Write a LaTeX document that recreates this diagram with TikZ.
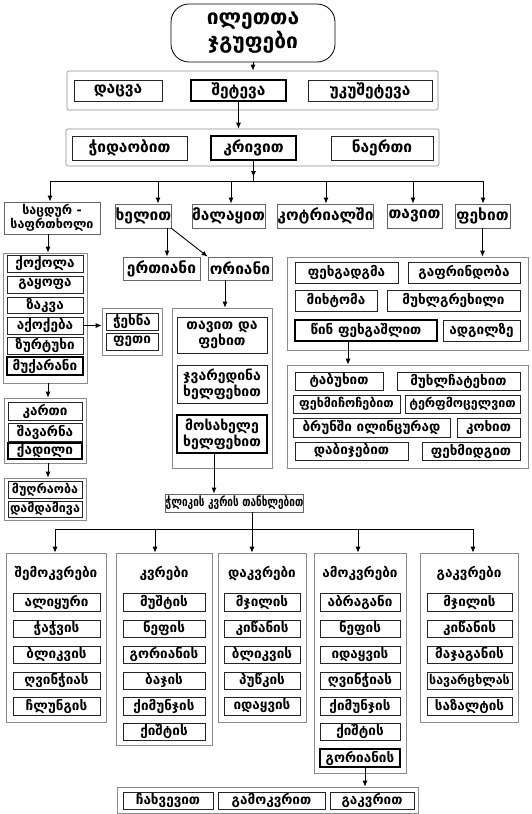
\documentclass[tikz,border=0pt]{standalone}
\usepackage{fontspec}
\setmainfont{DejaVu Sans}
\usetikzlibrary{arrows.meta}
\newcommand\BX[7]{%
 \pgfmathsetmacro\bxcx{(#3+#5)/2}%
 \pgfmathsetmacro\bxcy{(#4+#6)/2}%
 \pgfmathsetmacro\bxw{#5-#3}%
 \pgfmathsetmacro\bxh{#6-#4}%
 \node[#1,minimum width=\bxw pt,minimum height=\bxh pt] (#2) at (\bxcx,\bxcy) {#7};}
\begin{document}
\begin{tikzpicture}[x=1pt,y=-1pt,
  cont/.style={draw=black!45,line width=0.6pt,inner sep=0pt},
  ib/.style={draw=black!85,line width=0.7pt,inner sep=0pt,font=\bfseries\fontsize{13.5}{14}\selectfont,align=center},
  big/.style={ib,font=\bfseries\fontsize{15.5}{16}\selectfont},
  hb/.style={ib,draw=black,line width=1.3pt},
  hbig/.style={big,draw=black,line width=1.3pt},
  hdr/.style={inner sep=0pt,font=\bfseries\fontsize{13.5}{14}\selectfont},
  arr/.style={line width=0.9pt,-{Latex[length=6pt,width=5pt]}},
  ln/.style={line width=0.9pt}]
\useasboundingbox (0,0) rectangle (531,814);
\fill[white] (0,0) rectangle (531,814);
% title
\BX{draw=black,line width=0.8pt,rounded corners=18pt,align=center,inner sep=0pt,font=\bfseries\fontsize{21}{24}\selectfont}{t}{171}{4}{335}{62}{ილეთთა\\ჯგუფები}
% row 1
\BX{cont,rounded corners=2pt}{c1}{67}{71}{438}{110}{}
\BX{big}{r1a}{74}{80}{162}{101}{დაცვა}
\BX{hbig}{r1b}{191}{80}{286}{101}{შეტევა}
\BX{big}{r1c}{308}{80}{432}{101}{უკუშეტევა}
% row 2
\BX{cont,rounded corners=2pt}{c2}{66}{129}{439}{166}{}
\BX{big}{r2a}{72}{136}{187}{160}{ჭიდაობით}
\BX{hbig}{r2b}{211}{136}{296}{160}{კრივით}
\BX{big}{r2c}{331}{136}{433}{160}{ნაერთი}
\draw[arr] (t.south) -- (t.south |- c1.north);
\draw[arr] (r1b.south) -- (r1b.south |- c2.north);
% bar 1
\coordinate (d1) at (50,181);
\coordinate (d2) at (158,181);
\coordinate (d3) at (231,181);
\coordinate (d4) at (326,181);
\coordinate (d5) at (413,181);
\coordinate (d6) at (483,181);
\coordinate (ka) at (253.5,177);
\draw[ln] (r2b.south) -- (r2b.south |- d1);
\draw[arr] (r2b.south) -- (r2b.south |- ka);
\draw[ln] (d1) -- (d6);
% row 3
\BX{ib,draw=black!60,font=\bfseries\fontsize{12.5}{14}\selectfont}{r3a}{4}{202}{100}{234}{საცდურ -\\საფრთხოლი}
\BX{big,draw=black!60}{r3b}{119}{204}{168}{228}{ხელით}
\BX{big,draw=black!60}{r3c}{192}{204}{265}{228}{მალაყით}
\BX{big,draw=black!60}{r3d}{278}{204}{373}{228}{კოტრიალში}
\BX{big,draw=black!60}{r3e}{387}{204}{442}{228}{თავით}
\BX{big,draw=black!60}{r3f}{455}{204}{510}{228}{ფეხით}
\draw[arr] (d1) -- (d1 |- r3a.north);
\draw[arr] (d2) -- (d2 |- r3b.north);
\draw[arr] (d3) -- (d3 |- r3c.north);
\draw[arr] (d4) -- (d4 |- r3d.north);
\draw[arr] (d5) -- (d5 |- r3e.north);
\draw[arr] (d6) -- (d6 |- r3f.north);
% row 4
\BX{big,draw=black!60}{r4a}{123}{257}{200}{280}{ერთიანი}
\BX{big,draw=black!60}{r4b}{208}{257}{272}{280}{ორიანი}
\coordinate (hA) at (167,228);
\coordinate (hB) at (171,228);
\draw[arr] (hA) -- (hA |- r4a.north);
\draw[arr] (hB) -- (r4b.north west);
% middle stack
\BX{cont}{m}{172}{308}{272}{468}{}
\BX{ib,font=\bfseries\fontsize{14}{16}\selectfont}{m1}{177}{317}{267}{353}{თავით და\\ფეხით}
\BX{ib,font=\bfseries\fontsize{14}{16}\selectfont}{m2}{177}{365}{267}{403}{ჯვარედინა\\ხელფეხით}
\BX{hb,font=\bfseries\fontsize{14}{16}\selectfont}{m3}{177}{415}{267}{453}{მოსახელე\\ხელფეხით}
\coordinate (oA) at (225,280);
\draw[arr] (oA) -- (oA |- m.north);
% left column
\BX{cont}{la}{3}{253}{87}{383}{}
\BX{ib}{la1}{7}{255}{83}{272}{ქოქოლა}
\BX{ib}{la2}{7}{276}{83}{293}{გაყოფა}
\BX{ib}{la3}{7}{297}{83}{313}{ზაკვა}
\BX{ib}{la4}{7}{317}{83}{334}{აქოქება}
\BX{ib}{la5}{7}{337}{83}{354}{ზურტუხი}
\BX{hb}{la6}{7}{357}{83}{375}{მუქარანი}
\BX{cont}{sb}{102}{308}{162}{355}{}
\BX{ib}{sb1}{106}{313}{158}{330}{ჭეხნა}
\BX{ib}{sb2}{106}{333}{158}{350}{ფეთი}
\BX{cont}{lb}{4}{398}{86}{463}{}
\BX{ib}{lb1}{8}{402}{82}{420}{კართი}
\BX{ib}{lb2}{8}{423}{82}{441}{შავარნა}
\BX{hb}{lb3}{8}{443}{82}{459}{ქადილი}
\BX{cont}{lc}{4}{478}{86}{520}{}
\BX{ib,font=\bfseries\fontsize{12.5}{14}\selectfont}{lc1}{8}{481}{82}{498}{მუღრაობა}
\BX{ib,font=\bfseries\fontsize{12.5}{14}\selectfont}{lc2}{8}{501}{82}{517}{დამდამივა}
\coordinate (lA) at (48,234);
\coordinate (lB) at (48,383);
\coordinate (lC) at (48,463);
\draw[arr] (lA) -- (lA |- la.north);
\draw[arr] (lB) -- (lB |- lb.north);
\draw[arr] (lC) -- (lC |- lc.north);
\draw[arr] (la4.east) -- (la4.east -| sb.west);
% right side
\BX{cont}{ra}{287}{257}{528}{350}{}
\BX{ib}{ra1}{295}{262}{398}{283}{ფეხგადგმა}
\BX{ib}{ra2}{408}{262}{520}{283}{გაფრინდობა}
\BX{ib}{ra3}{295}{290}{377}{311}{მიხტომა}
\BX{ib}{ra4}{387}{290}{520}{311}{მუხლგრეხილი}
\BX{hb}{ra5}{295}{320}{437}{341}{წინ ფეხგაშლით}
\BX{ib}{ra6}{443}{320}{520}{341}{ადგილზე}
\draw[arr] (r3f.south) -- (r3f.south |- ra.north);
\BX{cont}{rb}{287}{365}{528}{468}{}
\BX{ib}{rb1}{295}{372}{383}{390}{ტაბუხით}
\BX{ib}{rb2}{397}{372}{520}{390}{მუხლჩატეხით}
\BX{ib,font=\bfseries\fontsize{12.5}{14}\selectfont}{rb3}{293}{395}{400}{413}{ფეხმიჩოჩებით}
\BX{ib,font=\bfseries\fontsize{12.5}{14}\selectfont}{rb4}{405}{395}{520}{413}{ტერფმოცელვით}
\BX{ib}{rb5}{293}{418}{450}{437}{ბრუნში ილინცურად}
\BX{ib}{rb6}{457}{418}{520}{437}{კოხით}
\BX{ib}{rb7}{295}{442}{408}{460}{დაბიჯებით}
\BX{ib}{rb8}{422}{442}{520}{460}{ფეხმიდგით}
\coordinate (rA) at (348,341);
\draw[arr] (rA) -- (rA |- rb.north);
% center box
\BX{ib,draw=black!60,font=\bfseries\fontsize{10}{12}\selectfont}{cb}{166}{494}{303}{512}{\scalebox{1}[1.3]{ჭლიკის კვრის თანხლებით}}
\coordinate (mA) at (214,453);
\draw[arr] (mA) -- (mA |- cb.north);
% bar 2
\coordinate (e1) at (55,529);
\coordinate (e2) at (155,529);
\coordinate (e3) at (252,529);
\coordinate (e4) at (358,529);
\coordinate (e5) at (473,529);
\draw[ln] (e3 |- cb.south) -- (e3);
\draw[ln] (e1) -- (e5);
% bottom columns
\BX{cont}{k1}{6}{553}{106}{722}{}
\BX{cont}{k2}{116}{553}{212}{745}{}
\BX{cont}{k3}{218}{553}{306}{722}{}
\BX{cont}{k4}{314}{553}{406}{773}{}
\BX{cont}{k5}{420}{553}{518}{722}{}
\draw[arr] (e1) -- (e1 |- k1.north);
\draw[arr] (e2) -- (e2 |- k2.north);
\draw[arr] (e3) -- (e3 |- k3.north);
\draw[arr] (e4) -- (e4 |- k4.north);
\draw[arr] (e5) -- (e5 |- k5.north);
\node[hdr] (h1) at (56,573) {შემოკვრები};
\node[hdr] (h2) at (164,573) {კვრები};
\node[hdr] (h3) at (262,573) {დაკვრები};
\node[hdr] (h4) at (360,573) {ამოკვრები};
\node[hdr] (h5) at (469,573) {გაკვრები};
% col 1
\BX{ib}{k1a}{13}{593}{100}{611}{ალიყური}
\BX{ib}{k1b}{13}{620}{100}{637}{ჭაჭვის}
\BX{ib}{k1c}{13}{646}{100}{663}{ბლიკვის}
\BX{ib}{k1d}{13}{672}{100}{689}{ღვინჭიას}
\BX{ib}{k1e}{13}{697}{100}{715}{ჩლუნგის}
% col 2
\BX{ib}{k2a}{123}{593}{205}{611}{მუშტის}
\BX{ib}{k2b}{123}{620}{205}{637}{ნეფის}
\BX{ib}{k2c}{123}{646}{205}{663}{გორიანის}
\BX{ib}{k2d}{123}{672}{205}{689}{ბაჯის}
\BX{ib}{k2e}{123}{697}{205}{715}{ქიმუნჯის}
\BX{ib}{k2f}{123}{723}{205}{740}{ქიშტის}
% col 3
\BX{ib}{k3a}{224}{593}{300}{611}{მჯილის}
\BX{ib}{k3b}{224}{620}{300}{637}{კიწანის}
\BX{ib}{k3c}{224}{646}{300}{663}{ბლიკვის}
\BX{ib}{k3d}{224}{672}{300}{689}{პუწკის}
\BX{ib}{k3e}{224}{697}{300}{715}{იდაყვის}
% col 4
\BX{ib}{k4a}{320}{593}{400}{611}{აბრაგანი}
\BX{ib}{k4b}{320}{620}{400}{637}{ნეფის}
\BX{ib}{k4c}{320}{646}{400}{663}{იდაყვის}
\BX{ib}{k4d}{320}{672}{400}{689}{ღვინჭიას}
\BX{ib}{k4e}{320}{697}{400}{715}{ქიმუნჯის}
\BX{ib}{k4f}{320}{723}{400}{740}{ქიშტის}
\BX{hb}{k4g}{320}{749}{400}{767}{გორიანის}
% col 5
\BX{ib}{k5a}{427}{593}{512}{611}{მჯილის}
\BX{ib}{k5b}{427}{620}{512}{637}{კიწანის}
\BX{ib}{k5c}{427}{646}{512}{663}{მაჯაგანის}
\BX{ib,font=\bfseries\fontsize{12.5}{14}\selectfont}{k5d}{427}{672}{512}{689}{სავარცხლას}
\BX{ib}{k5e}{427}{697}{512}{715}{საზალტის}
% bottom row
\BX{cont}{bc}{117}{787}{418}{813.5}{}
\BX{ib}{b1}{123}{792}{213}{809}{ჩახვევით}
\BX{ib}{b2}{218}{792}{325}{809}{გამოკვრით}
\BX{ib}{b3}{330}{792}{414}{809}{გაკვრით}
\coordinate (gA) at (365,767);
\draw[arr] (gA) -- (gA |- bc.north);
\end{tikzpicture}
\end{document}
